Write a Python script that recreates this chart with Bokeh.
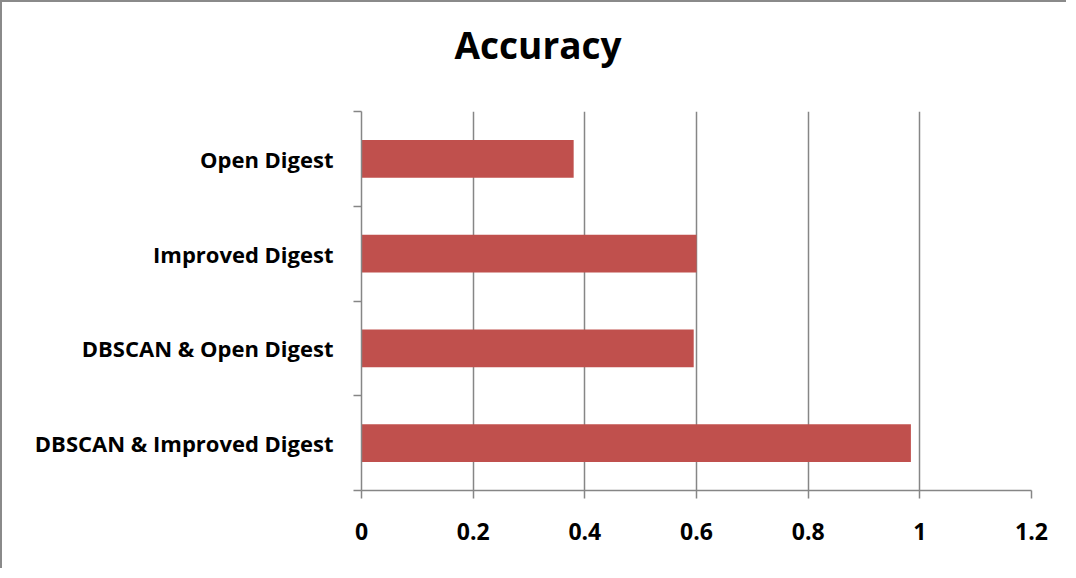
from bokeh.plotting import figure
from bokeh.models import Range1d, FixedTicker, CustomJSTickFormatter, ColumnDataSource, Title
from bokeh.embed import file_html
from bokeh.resources import INLINE

categories = ["Open Digest", "Improved Digest", "DBSCAN & Open Digest", "DBSCAN & Improved Digest"]
accuracy = [0.38, 0.60, 0.595, 0.984]
x_ticks = [0, 0.2, 0.4, 0.6, 0.8, 1, 1.2]

n = len(categories)
ypos = [i + 0.5 for i in range(n)]
src = ColumnDataSource(dict(y=ypos, right=accuracy, cat=categories))

GRAY = "#868686"
FONT = "Open Sans"

p = figure(width=1066, height=568, output_backend="svg", toolbar_location=None,
           x_range=Range1d(0, 1.2), y_range=Range1d(n, 0),
           min_border_left=359, min_border_right=37, min_border_top=109, min_border_bottom=80)
p.styles = {"border-left": "2px solid #8a8a8a", "border-top": "2px solid #8a8a8a"}
p.outline_line_color = None
p.background_fill_color = "white"

# spacer between title and plot area
spacer = Title(text=" ", text_font_size="1px", standoff=37)
p.add_layout(spacer, "above")

p.title.text = "Accuracy"
p.title.align = "left"
p.title.offset = 93
p.title.standoff = 4
p.title.text_font = FONT
p.title.text_font_style = "bold"
p.title.text_font_size = "37px"
p.title.text_color = "black"

p.hbar(y="y", left=0, right="right", height=0.4, source=src, fill_color="#C0504D", line_color=None)

# x axis
p.xaxis.ticker = FixedTicker(ticks=x_ticks)
p.xaxis.formatter = CustomJSTickFormatter(code="return String(tick)")
p.xaxis.axis_line_color = GRAY
p.xaxis.axis_line_width = 1.5
p.xaxis.major_tick_line_color = GRAY
p.xaxis.major_tick_line_width = 1.5
p.xaxis.major_tick_out = 8
p.xaxis.major_tick_in = 0
p.xaxis.minor_tick_line_color = None
p.xaxis.major_label_text_font = FONT
p.xaxis.major_label_text_font_style = "bold"
p.xaxis.major_label_text_font_size = "23px"
p.xaxis.major_label_text_color = "black"
p.xaxis.major_label_standoff = 24

# y axis
overrides = {y: c for y, c in zip(ypos, categories)}
p.yaxis.ticker = FixedTicker(ticks=ypos, minor_ticks=list(range(n + 1)))
p.yaxis.major_label_overrides = overrides
p.yaxis.axis_line_color = GRAY
p.yaxis.axis_line_width = 1.5
p.yaxis.major_tick_line_color = None
p.yaxis.minor_tick_line_color = GRAY
p.yaxis.minor_tick_line_width = 1.5
p.yaxis.minor_tick_out = 8
p.yaxis.minor_tick_in = 0
p.yaxis.major_label_text_font = FONT
p.yaxis.major_label_text_font_style = "bold"
p.yaxis.major_label_text_font_size = "22px"
p.yaxis.major_label_text_color = "black"
p.yaxis.major_label_standoff = 20

p.xgrid.ticker = FixedTicker(ticks=x_ticks)
p.xgrid.grid_line_color = GRAY
p.xgrid.grid_line_width = 1.5
p.ygrid.grid_line_color = None

open("out.html", "w").write(file_html(p, INLINE))
